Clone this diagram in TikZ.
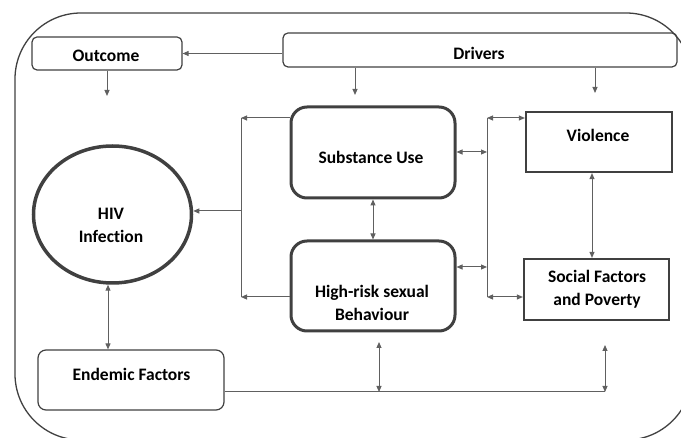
\documentclass[tikz,border=0pt]{standalone}
\usepackage{fontspec}
\setmainfont{Carlito}[Ligatures=CommonOff]
\usetikzlibrary{arrows.meta,calc,shapes.geometric}
\definecolor{boxgray}{HTML}{404040}
\definecolor{linegray}{HTML}{606060}
\tikzset{
  thinbox/.style={draw=boxgray, line width=1.2pt, rounded corners=5pt, inner sep=0pt},
  endbox/.style={draw=boxgray, line width=1.2pt, rounded corners=8pt, inner sep=0pt},
  thickbox/.style={draw=boxgray, line width=3pt, rounded corners=16pt, inner sep=0pt},
  sqbox/.style={draw=boxgray, line width=2.2pt, inner sep=0pt},
  circbox/.style={draw=boxgray, line width=3.5pt, ellipse, inner sep=0pt},
  txt/.style={font=\bfseries\fontsize{17.5}{23}\selectfont, align=center, inner sep=0pt, text=black},
  conn/.style={draw=linegray, line width=1pt, -{Triangle[length=6pt,width=5pt]}},
  dconn/.style={draw=linegray, line width=1pt, {Triangle[length=6pt,width=5pt]}-{Triangle[length=6pt,width=5pt]}},
  plain/.style={draw=linegray, line width=1pt}
}
\begin{document}
\begin{tikzpicture}[x=1pt,y=-1pt]
\useasboundingbox (0,0) rectangle (681,438);
\begin{scope}
  \clip (0,0) rectangle (681,438);
  \draw[draw=boxgray, line width=1.3pt, rounded corners=66pt] (15,13) rectangle (692,440);
\end{scope}

% boxes
\node[thinbox, minimum width=150pt, minimum height=33pt] (outcome) at (107,53.5) {};
\node[thinbox, minimum width=394pt, minimum height=34pt] (drivers) at (480,50) {};
\node[thickbox, minimum width=164pt, minimum height=91pt] (sub) at (373,152.5) {};
\node[thickbox, minimum width=164pt, minimum height=90pt] (hr) at (373,286) {};
\node[sqbox, minimum width=146pt, minimum height=60pt] (vio) at (599,142) {};
\node[sqbox, minimum width=145pt, minimum height=61pt] (soc) at (596.5,289.5) {};
\node[circbox, minimum width=158pt, minimum height=137pt] (hiv) at (112.5,214.5) {};
\node[endbox, minimum width=186pt, minimum height=60pt] (end) at (131,380) {};

% texts
\node[txt] (outcomeT) at (106,56) {Outcome};
\node[txt] (driversT) at (479,53) {Drivers};
\node[txt] (subT) at (371,157) {Substance Use};
\node[txt] (hrT) at (372,303) {High-risk sexual\\Behaviour};
\node[txt] (hivT) at (111,225) {HIV\\Infection};
\node[txt] (vioT) at (598,135.5) {Violence};
\node[txt] (socT) at (597,289) {Social Factors\\and Poverty};
\node[txt] (endT) at (131.5,374.5) {Endemic Factors};

% free ends
\coordinate (oDown) at (107,96);
\coordinate (dDown1) at (355,95);
\coordinate (dDown2) at (595,93);
\coordinate (bL1) at (241,118);
\coordinate (bL2) at (241,297);
\coordinate (bLm) at (241,211);
\coordinate (bR1) at (487,118);
\coordinate (bR2) at (487,297);
\coordinate (bRs) at (487,152);
\coordinate (bRh) at (487,267);
\coordinate (eA) at (379,392);
\coordinate (eB) at (605,392);
\coordinate (eAt) at (379,342);
\coordinate (eBt) at (605,345);

% connectors
\draw[conn] (drivers.west |- outcome.east) -- (outcome.east);
\draw[conn] (outcome.south) -- (oDown);
\draw[conn] (drivers.south -| dDown1) -- (dDown1);
\draw[conn] (drivers.south -| dDown2) -- (dDown2);
\draw[dconn] (sub.south) -- (hr.north);

\draw[conn] (bL1 -| sub.west) -- (bL1);
\draw[conn] (bL2 -| hr.west) -- (bL2);
\draw[plain] (bL1) -- (bL2);
\draw[conn] (bLm) -- (bLm -| hiv.east);

\draw[plain] (bR1) -- (bR2);
\draw[dconn] (bR1) -- (bR1 -| vio.west);
\draw[dconn] (bR2) -- (bR2 -| soc.west);
\draw[dconn] (bRs -| sub.east) -- (bRs);
\draw[dconn] (bRh -| hr.east) -- (bRh);
\draw[dconn] ([xshift=-7pt]vio.south) -- ([xshift=-7pt]vio.south |- soc.north);

\draw[dconn] ([xshift=-4.5pt]hiv.south) -- ([xshift=-4.5pt]hiv.south |- end.north);
\draw[plain] (eB -| end.east) -- (eB);
\draw[dconn] (eAt) -- (eA);
\draw[dconn] (eBt) -- (eB);
\end{tikzpicture}
\end{document}
